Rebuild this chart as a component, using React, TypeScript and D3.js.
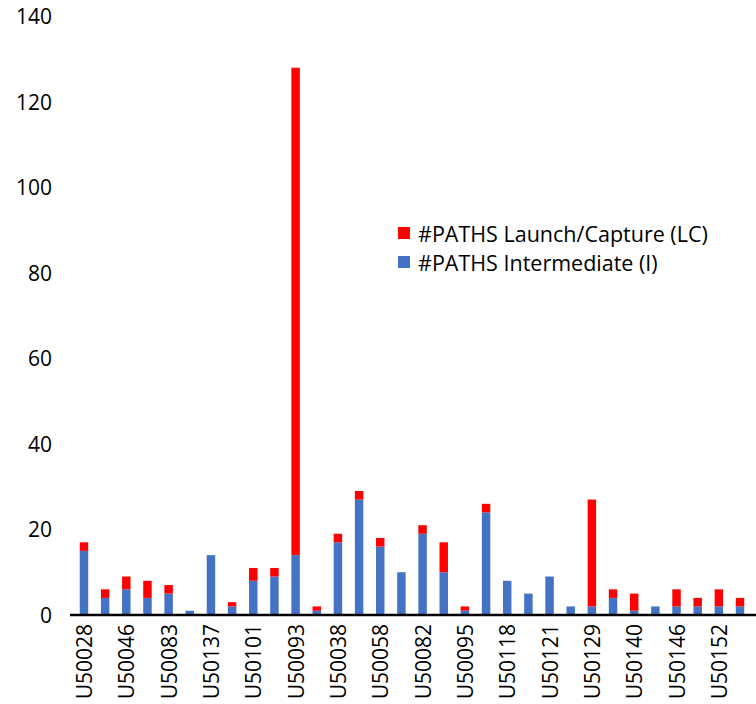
import React from "react";
import * as d3 from "d3";

const categories: string[] = [
  "U50028", "", "U50046", "", "U50083", "", "U50137", "", "U50101", "", "U50093", "",
  "U50038", "", "U50058", "", "U50082", "", "U50095", "", "U50118", "", "U50121", "",
  "U50129", "", "U50140", "", "U50146", "", "U50152", "",
];
const intermediate: number[] = [
  15, 4, 6, 4, 5, 1, 14, 2, 8, 9, 14, 1, 17, 27, 16, 10, 19, 10, 1, 24, 8, 5, 9, 2,
  2, 4, 1, 2, 2, 2, 2, 2,
];
const launchCapture: number[] = [
  2, 2, 3, 4, 2, 0, 0, 1, 3, 2, 114, 1, 2, 2, 2, 0, 2, 7, 1, 2, 0, 0, 0, 0,
  25, 2, 4, 0, 4, 2, 4, 2,
];
const yTicks: number[] = [0, 20, 40, 60, 80, 100, 120, 140];
const seriesNames: string[] = ["#PATHS Launch/Capture (LC)", "#PATHS Intermediate (I)"];
const seriesColors: string[] = ["#FF0000", "#4472C4"];

const W = 756;
const H = 704;
const FONT = "'Open Sans', sans-serif";

export default function App() {
  const idx = categories.map((_, i) => String(i));
  const x = d3.scaleBand<string>().domain(idx).range([73.4, 750.6]).paddingInner(0.6).paddingOuter(0.3);
  const y = d3.scaleLinear().domain([0, 140]).range([615, 16.4]);
  const rows = categories.map((c, i) => ({ c, I: intermediate[i], LC: launchCapture[i] }));
  const stack = d3.stack<any>().keys(["I", "LC"])(rows);
  const colorFor: Record<string, string> = { I: seriesColors[1], LC: seriesColors[0] };

  return (
    <svg width={W} height={H} style={{ position: "absolute", left: 0, top: 0, background: "#fff" }}>
      <rect x={0} y={0} width={W} height={H} fill="#fff" />
      {yTicks.map((t) => (
        <text key={t} x={52} y={y(t)} textAnchor="end" dominantBaseline="central"
          fontFamily={FONT} fontSize={21} fill="#000">{t}</text>
      ))}
      {stack.map((s) => (
        <g key={s.key} fill={colorFor[s.key]}>
          {s.map((d, i) => (
            d[1] - d[0] > 0 ? (
              <rect key={i} x={x(String(i))} width={x.bandwidth()} y={y(d[1])} height={y(d[0]) - y(d[1])} />
            ) : null
          ))}
        </g>
      ))}
      <line x1={70} x2={756} y1={y(0)} y2={y(0)} stroke="#000" strokeWidth={2.5} />
      {categories.map((c, i) => c ? (
        <text key={i} transform={`translate(${x(String(i))! + x.bandwidth() / 2},624) rotate(-90)`}
          textAnchor="end" dominantBaseline="central" fontFamily={FONT} fontSize={21} fill="#000">{c}</text>
      ) : null)}
      {seriesNames.map((n, i) => (
        <g key={n} transform={`translate(398,${233 + i * 29})`}>
          <rect x={0} y={-6} width={12} height={12} fill={seriesColors[i]} />
          <text x={20} y={0} dominantBaseline="central" fontFamily={FONT} fontSize={21.5} fill="#000">{n}</text>
        </g>
      ))}
    </svg>
  );
}
